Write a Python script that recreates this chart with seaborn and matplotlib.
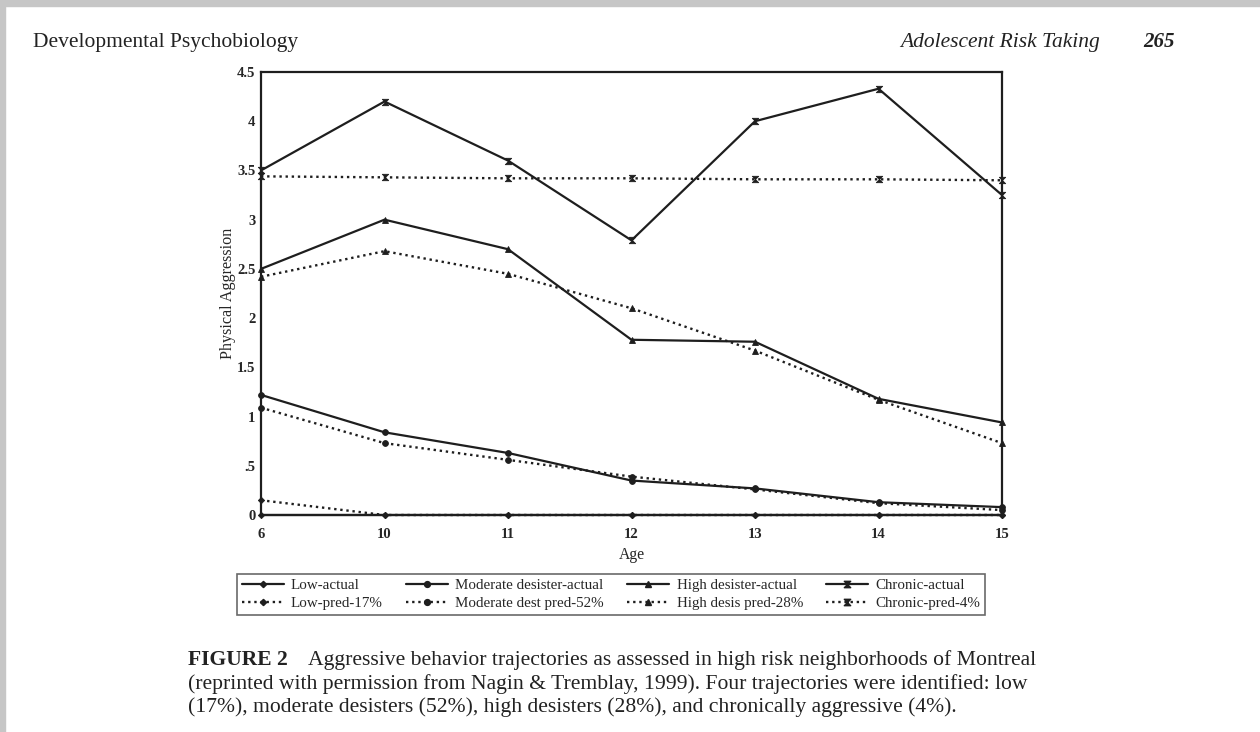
import numpy as np
import pandas as pd
import matplotlib
matplotlib.use("Agg")
import matplotlib.pyplot as plt
from matplotlib.path import Path
from matplotlib.patches import Rectangle
from matplotlib.lines import Line2D
import seaborn as sns

# ---------------- data ----------------
ages = ["6", "10", "11", "12", "13", "14", "15"]
y_ticks = [0, 0.5, 1, 1.5, 2, 2.5, 3, 3.5, 4, 4.5]
y_tick_labels = ["0", ".5", "1", "1.5", "2", "2.5", "3", "3.5", "4", "4.5"]

low_actual = [0.00, 0.00, 0.00, 0.00, 0.00, 0.00, 0.00]
low_pred = [0.15, 0.00, 0.00, 0.00, 0.00, 0.00, 0.00]
moderate_actual = [1.22, 0.84, 0.63, 0.35, 0.27, 0.13, 0.08]
moderate_pred = [1.09, 0.73, 0.56, 0.39, 0.26, 0.12, 0.05]
high_actual = [2.50, 3.00, 2.70, 1.78, 1.76, 1.18, 0.94]
high_pred = [2.42, 2.68, 2.45, 2.10, 1.67, 1.17, 0.73]
chronic_actual = [3.50, 4.20, 3.60, 2.79, 4.00, 4.33, 3.25]
chronic_pred = [3.44, 3.43, 3.42, 3.42, 3.41, 3.41, 3.40]

series_names = ["Low-actual", "Low-pred-17%",
                "Moderate desister-actual", "Moderate dest pred-52%",
                "High desister-actual", "High desis pred-28%",
                "Chronic-actual", "Chronic-pred-4%"]
series_values = [low_actual, low_pred, moderate_actual, moderate_pred,
                 high_actual, high_pred, chronic_actual, chronic_pred]

# ---------------- styles ----------------
hourglass = Path([(-1, 1), (1, 1), (-1, -1), (1, -1), (-1, 1)],
                 [Path.MOVETO, Path.LINETO, Path.LINETO, Path.LINETO, Path.CLOSEPOLY])
marker_for = {"Low": "D", "Moderate": "o", "High": "^", "Chronic": hourglass}
msize_for = {"Low": 3.2, "Moderate": 4.2, "High": 4.6, "Chronic": 4.6}
ink = "#1e1e1e"

sns.set_theme(style="white")
plt.rcParams["font.family"] = ["Liberation Serif", "DejaVu Serif"]

fig = plt.figure(figsize=(12.6, 7.32), dpi=100)
fig.patch.set_facecolor("white")
# scanned page edges
fig.add_artist(Rectangle((0, 1 - 6 / 732), 1, 6 / 732, transform=fig.transFigure,
                         color="#c6c6c6", zorder=0))
fig.add_artist(Rectangle((0, 0), 5 / 1260, 1, transform=fig.transFigure,
                         color="#c6c6c6", zorder=0))

ax = fig.add_axes([261 / 1260, 1 - 515 / 732, (1002 - 261) / 1260, (515 - 72) / 732])

rows = []
for name, vals in zip(series_names, series_values):
    for i, v in enumerate(vals):
        rows.append({"series": name, "pos": i, "value": v})
df = pd.DataFrame(rows)

handles = []
for name in series_names:
    key = name.split("-")[0].split(" ")[0]
    pred = "pred" in name
    ls = (0, (1.0, 1.6)) if pred else "-"
    lw = 1.7 if pred else 1.6
    sub = df[df["series"] == name]
    sns.lineplot(data=sub, x="pos", y="value", ax=ax, color=ink, linewidth=lw,
                 linestyle=ls, marker=marker_for[key], markersize=msize_for[key],
                 markeredgecolor=ink, markerfacecolor=ink, markeredgewidth=0.6,
                 legend=False, clip_on=False, zorder=3)
    handles.append(Line2D([], [], color=ink, linewidth=lw, linestyle=ls,
                          marker=marker_for[key], markersize=msize_for[key],
                          markeredgecolor=ink, markerfacecolor=ink,
                          label=name))

ax.set_xlim(0, 6)
ax.set_ylim(0, 4.5)
ax.set_xticks(range(len(ages)))
ax.set_xticklabels(ages, fontsize=10.5, fontweight="bold")
ax.set_yticks(y_ticks)
ax.set_yticklabels(y_tick_labels, fontsize=10.5, fontweight="bold")
ax.tick_params(axis="y", direction="in", length=3, width=0.8, color=ink, pad=4)
ax.tick_params(axis="x", direction="in", length=0, pad=9)
for s in ax.spines.values():
    s.set_color(ink)
    s.set_linewidth(1.6)
ax.set_xlabel("Age", fontsize=11.3, labelpad=5)
ax.set_ylabel("Physical Aggression", fontsize=11.6, labelpad=1)

# legend: two rows x four columns (column-major fill)
leg = fig.legend(handles=handles, labels=series_names, ncol=4, loc="lower left",
                 bbox_to_anchor=(237 / 1260, 1 - 615 / 732, (985 - 237) / 1260, 42 / 732),
                 mode="expand", fontsize=10.8, frameon=True, fancybox=False,
                 edgecolor="#444444", handlelength=2.8, handletextpad=0.5,
                 borderpad=0.3, labelspacing=0.32, columnspacing=0.8, numpoints=1,
                 borderaxespad=0)
leg.get_frame().set_linewidth(1.2)

# page header
fig.text(33 / 1260, 1 - 42 / 732, "Developmental Psychobiology", fontsize=15.5,
         va="center", ha="left", color="#222222")
fig.text(1100 / 1260, 1 - 42 / 732, "Adolescent Risk Taking", fontsize=15.5,
         style="italic", va="center", ha="right", color="#222222")
fig.text(1175 / 1260, 1 - 42 / 732, "265", fontsize=15, style="italic",
         fontweight="bold", va="center", ha="right", color="#222222")

# caption
cap_x = 188 / 1260
fs_cap = 15.6
fig.text(cap_x, 1 - 660 / 732, "FIGURE 2", fontsize=fs_cap, fontweight="bold",
         va="center", ha="left", color="#222222")
fig.text(308 / 1260, 1 - 660 / 732,
         "Aggressive behavior trajectories as assessed in high risk neighborhoods of Montreal",
         fontsize=fs_cap, va="center", ha="left", color="#222222")
fig.text(cap_x, 1 - 684 / 732,
         "(reprinted with permission from Nagin & Tremblay, 1999). Four trajectories were identified: low",
         fontsize=fs_cap, va="center", ha="left", color="#222222")
fig.text(cap_x, 1 - 707 / 732,
         "(17%), moderate desisters (52%), high desisters (28%), and chronically aggressive (4%).",
         fontsize=fs_cap, va="center", ha="left", color="#222222")

fig.savefig("out.png", dpi=100, facecolor="white")
